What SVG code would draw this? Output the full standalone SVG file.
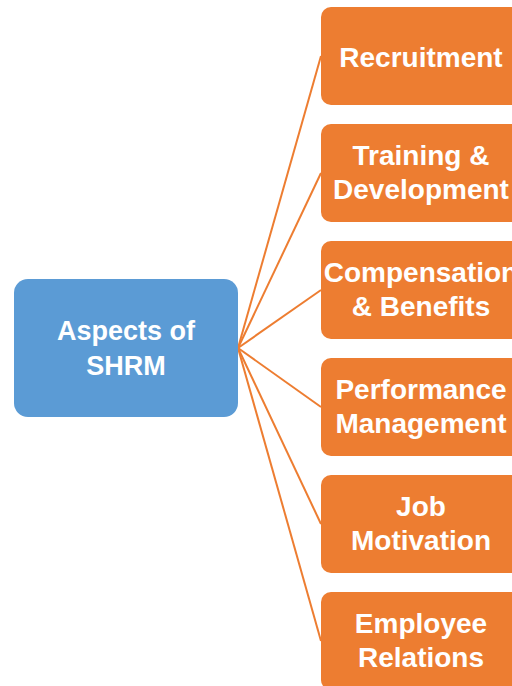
<svg xmlns="http://www.w3.org/2000/svg" width="512" height="686" viewBox="0 0 512 686">
  <style>
    .root { fill: #5B9BD5; }
    .leaf { fill: #ED7D31; }
    .lbl { fill: #FFFFFF; font-family: "Liberation Sans", Arial, sans-serif; font-weight: bold; font-size: 28px; text-anchor: middle; }
    .link { stroke: #ED7D31; stroke-width: 2; fill: none; }
  </style>
  <rect width="512" height="686" fill="#FFFFFF"/>

  <g id="connectors">
    <line class="link" x1="238" y1="348" x2="321" y2="56"/>
    <line class="link" x1="238" y1="348" x2="321" y2="173"/>
    <line class="link" x1="238" y1="348" x2="321" y2="290"/>
    <line class="link" x1="238" y1="348" x2="321" y2="407"/>
    <line class="link" x1="238" y1="348" x2="321" y2="524"/>
    <line class="link" x1="238" y1="348" x2="321" y2="641"/>
  </g>

  <g id="aspects-of-shrm">
    <rect class="root" x="14" y="279" width="224" height="138" rx="14"/>
    <text class="lbl" x="126" y="340" style="font-size:27px">Aspects of</text>
    <text class="lbl" x="126" y="375" style="font-size:27px">SHRM</text>
  </g>

  <g id="recruitment">
    <rect class="leaf" x="321" y="7" width="200" height="98" rx="10"/>
    <text class="lbl" x="421" y="67">Recruitment</text>
  </g>

  <g id="training-development">
    <rect class="leaf" x="321" y="124" width="200" height="98" rx="10"/>
    <text class="lbl" x="421" y="165">Training &amp;</text>
    <text class="lbl" x="421" y="199">Development</text>
  </g>

  <g id="compensation-benefits">
    <rect class="leaf" x="321" y="241" width="200" height="98" rx="10"/>
    <text class="lbl" x="421" y="282">Compensation</text>
    <text class="lbl" x="421" y="316">&amp; Benefits</text>
  </g>

  <g id="performance-management">
    <rect class="leaf" x="321" y="358" width="200" height="98" rx="10"/>
    <text class="lbl" x="421" y="399">Performance</text>
    <text class="lbl" x="421" y="433">Management</text>
  </g>

  <g id="job-motivation">
    <rect class="leaf" x="321" y="475" width="200" height="98" rx="10"/>
    <text class="lbl" x="421" y="516">Job</text>
    <text class="lbl" x="421" y="550">Motivation</text>
  </g>

  <g id="employee-relations">
    <rect class="leaf" x="321" y="592" width="200" height="98" rx="10"/>
    <text class="lbl" x="421" y="633">Employee</text>
    <text class="lbl" x="421" y="667">Relations</text>
  </g>
</svg>
